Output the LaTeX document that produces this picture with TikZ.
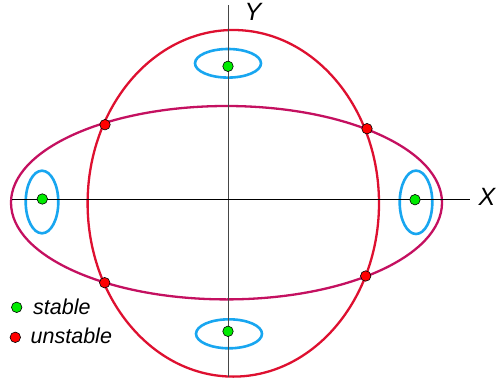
\documentclass[tikz,border=0pt]{standalone}
\usepackage{fontspec}
\setmainfont{Liberation Sans}
\definecolor{ellred}{RGB}{222,16,48}
\definecolor{ellmag}{RGB}{196,16,96}
\definecolor{orbblue}{RGB}{24,166,240}
\definecolor{stabgreen}{RGB}{0,235,0}
\definecolor{unstred}{RGB}{255,0,0}
\definecolor{axgray}{RGB}{70,70,70}
\tikzset{
  stabledot/.style={circle,draw=black,line width=0.6pt,fill=stabgreen,minimum size=10.5pt,inner sep=0pt},
  unstabledot/.style={circle,draw=black,line width=0.6pt,fill=unstred,minimum size=10.5pt,inner sep=0pt},
  bigell/.style={line width=2.3pt},
  orbit/.style={draw=orbblue,line width=2.6pt},
  axislab/.style={font=\fontsize{25}{25}\selectfont\itshape,inner sep=0pt},
  legendlab/.style={font=\fontsize{21.5}{21.5}\selectfont\itshape,inner sep=0pt,anchor=west}
}
\begin{document}
\begin{tikzpicture}[x=1pt,y=-1pt]
\useasboundingbox (0,0) rectangle (497,385);
% separatrix ellipses
\draw[bigell,draw=ellred] (233.3pt,-203.3pt) ellipse [x radius=145.7pt, y radius=173.3pt];
\draw[bigell,draw=ellmag] (226.5pt,-202.7pt) ellipse [x radius=215.5pt, y radius=96.7pt];
% small orbits
\draw[orbit] (228pt,-63.3pt) ellipse [x radius=33pt, y radius=14.3pt];
\draw[orbit] (229pt,-333.8pt) ellipse [x radius=33pt, y radius=14.5pt];
\draw[orbit] (42pt,-202pt) ellipse [x radius=16.3pt, y radius=31.3pt];
\draw[orbit] (416pt,-202.3pt) ellipse [x radius=16.3pt, y radius=31.7pt];
% axes
\coordinate (ytop) at (228.5,5);
\coordinate (ybot) at (228.5,377);
\coordinate (xleft) at (12,199.5);
\coordinate (xright) at (470,199.5);
\draw[axgray,line width=1.2pt] (ybot) -- (ytop);
\draw[black,line width=1pt] (xleft) -- (xright);
\node[axislab] (ylab) at (253,12) {Y};
\node[axislab] (xlab) at (487,197) {X};
% equilibria
\node[stabledot] (s1) at (228,66.3) {};
\node[stabledot] (s2) at (228,331.3) {};
\node[stabledot] (s3) at (42.3,199) {};
\node[stabledot] (s4) at (415,199.7) {};
\node[unstabledot] (u1) at (105,124.7) {};
\node[unstabledot] (u2) at (367,128.7) {};
\node[unstabledot] (u3) at (104.7,282.7) {};
\node[unstabledot] (u4) at (365.7,276) {};
% legend
\node[stabledot] (lg) at (16.7,307.3) {};
\node[legendlab] (lgt) at (33,307) {stable};
\node[unstabledot] (lr) at (15.3,337.3) {};
\node[legendlab] (lrt) at (30.5,336) {unstable};
\end{tikzpicture}
\end{document}
